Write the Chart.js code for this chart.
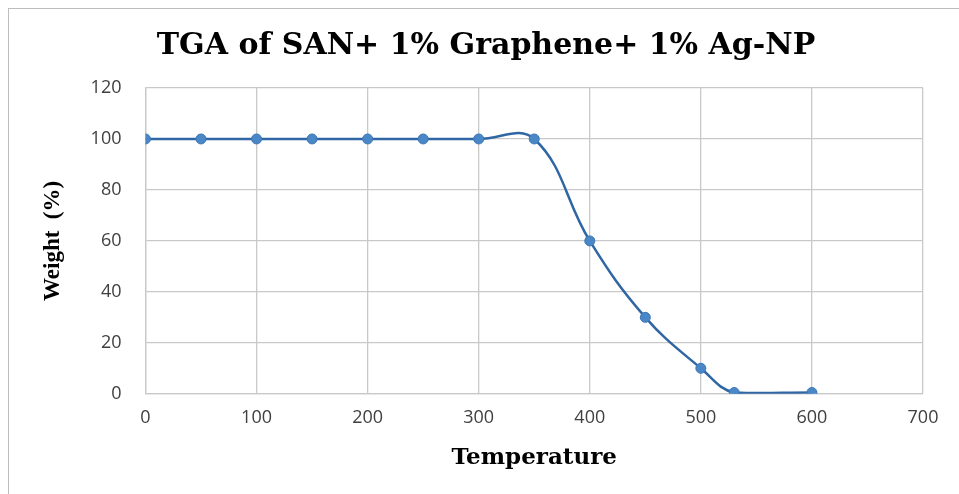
<!DOCTYPE html>
<html>
<head>
<meta charset="utf-8">
<script src="https://cdn.jsdelivr.net/npm/chart.js@4"></script>
<style>
  html, body { margin: 0; padding: 0; background: #fff; overflow: hidden; }
  .frame { position: absolute; left: 8px; top: 8px; width: 1000px; height: 600px; border: 1px solid #bdbdbd; }
  .chart-title {
    position: absolute; left: 0; top: 29px; width: 972px; text-align: center;
    font: bold 30px "DejaVu Serif", serif; line-height: 1; color: #000; white-space: nowrap;
  }
  #tgaChart { position: absolute; left: 0; top: 0; }
</style>
</head>
<body>
<div class="frame"></div>
<canvas id="tgaChart" width="959" height="494"></canvas>
<div class="chart-title" id="chartTitle"></div>
<script>
// data
const temps = [0, 50, 100, 150, 200, 250, 300, 350, 400, 450, 500, 530, 600];
const weights = [100, 100, 100, 100, 100, 100, 100, 100, 60, 30, 10, 0.5, 0.5];
const chartTitle = 'TGA of SAN+ 1% Graphene+ 1% Ag-NP';
const xTitle = 'Temperature';
const yTitle = 'Weight  (%)';

document.getElementById('chartTitle').textContent = chartTitle;

const points = temps.map((t, i) => ({ x: t, y: weights[i] }));

const ctx = document.getElementById('tgaChart');
const gridCol = '#c9c9c9';
const tickFont = { family: 'Open Sans', size: 18 };

const tgaChart = new Chart(ctx, {
    type: 'line',
    data: {
        datasets: [{
            data: points,
            borderColor: '#2f66a3',
            borderWidth: 2.5,
            backgroundColor: '#4a87c7',
            pointBorderColor: '#3b77b6',
            pointBackgroundColor: '#4a87c7',
            pointRadius: 5,
            pointBorderWidth: 1,
            tension: 0.4,
            fill: false
        }]
    },
    options: {
        responsive: false,
        animation: false,
        layout: { padding: { left: 22, right: 36, top: 88, bottom: 22 } },
        plugins: {
            legend: { display: false },
            tooltip: { enabled: false },
            title: { display: false }
        },
        scales: {
            x: {
                type: 'linear',
                min: 0,
                max: 700,
                ticks: { stepSize: 100, color: '#404040', font: tickFont, padding: 13 },
                grid: { color: gridCol, lineWidth: 1.3, drawTicks: false },
                border: { color: gridCol, width: 1.3 },
                title: {
                    display: true,
                    text: xTitle,
                    color: '#000',
                    font: { family: 'DejaVu Serif', size: 23, weight: 'bold' },
                    padding: { top: 3, bottom: 0 }
                }
            },
            y: {
                min: 0,
                max: 120,
                ticks: { stepSize: 20, color: '#404040', font: tickFont, padding: 24 },
                grid: { color: gridCol, lineWidth: 1.3, drawTicks: false },
                border: { color: gridCol, width: 1.3 },
                title: {
                    display: true,
                    text: yTitle,
                    color: '#000',
                    font: { family: 'Liberation Serif', size: 23, weight: 'bold' },
                    padding: { top: 17, bottom: 0 }
                }
            }
        }
    }
});
</script>
</body>
</html>
